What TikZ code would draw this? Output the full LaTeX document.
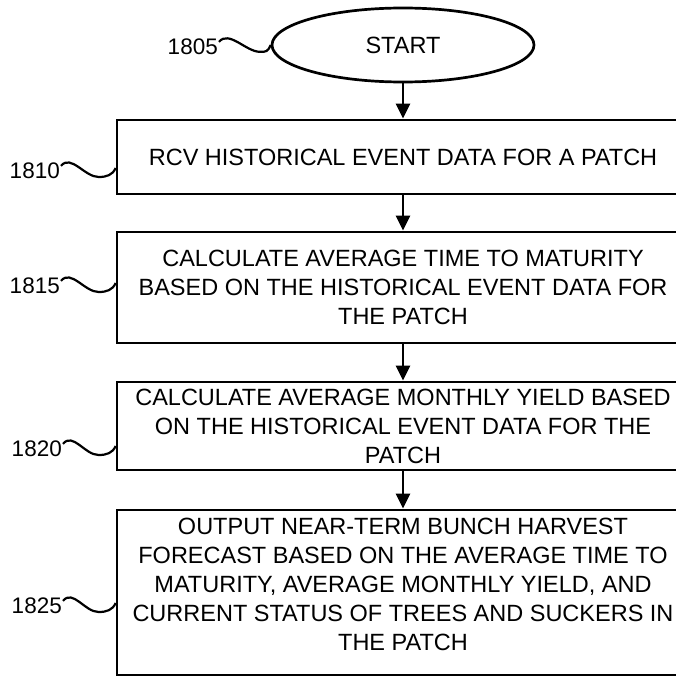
\documentclass[tikz,border=0pt]{standalone}
\usepackage{fontspec}
\setmainfont{Liberation Sans}
\usetikzlibrary{arrows.meta,shapes.geometric,calc}

\tikzset{
  flowline/.style={line width=2.7pt, line join=miter},
  stepbox/.style={flowline, draw, rectangle, align=center, inner sep=0pt,
                  minimum width=572pt, font=\fontsize{23.5}{29}\selectfont},
  startshape/.style={flowline, draw, ellipse, inner sep=0pt,
                     minimum width=262pt, minimum height=74pt,
                     font=\fontsize{23.5}{29}\selectfont},
  reflabel/.style={anchor=east, inner sep=0pt, font=\fontsize{22.5}{27}\selectfont},
  flowarrow/.style={line width=2.7pt, -{Triangle[length=15pt,width=14pt]}},
  squiggle/.style={line width=2.2pt}
}

\begin{document}
\begin{tikzpicture}[x=1pt, y=-1pt]
  \useasboundingbox (0,0) rectangle (676,677);
  \clip (0,0) rectangle (676,677);

  % process steps (boxes run off the right edge of the sheet)
  \node[startshape] (start) at (403,45) {START};
  \node[stepbox, minimum height=74pt]  (b1) at (403,157)   {RCV HISTORICAL EVENT DATA FOR A PATCH};
  \node[stepbox, minimum height=111pt] (b2) at (403,287.5) {CALCULATE AVERAGE TIME TO MATURITY\\BASED ON THE HISTORICAL EVENT DATA FOR\\THE PATCH};
  \node[stepbox, minimum height=88pt]  (b3) at (403,426)   {CALCULATE AVERAGE MONTHLY YIELD BASED\\ON THE HISTORICAL EVENT DATA FOR THE\\PATCH};
  \node[stepbox, minimum height=165pt] (b4) at (403,592.5) {OUTPUT NEAR-TERM BUNCH HARVEST\\FORECAST BASED ON THE AVERAGE TIME TO\\MATURITY, AVERAGE MONTHLY YIELD, AND\\CURRENT STATUS OF TREES AND SUCKERS IN\\THE PATCH\\[-13pt]};

  % flow arrows
  \draw[flowarrow] (start.south) -- (b1.north);
  \draw[flowarrow] (b1.south) -- (b2.north);
  \draw[flowarrow] (b2.south) -- (b3.north);
  \draw[flowarrow] (b3.south) -- (b4.north);

  % reference numerals
  \node[reflabel] (l0) at (218,47)  {1805};
  \node[reflabel] (l1) at (60,171)  {1810};
  \node[reflabel] (l2) at (60,286)  {1815};
  \node[reflabel] (l3) at (62,449)  {1820};
  \node[reflabel] (l4) at (62,606)  {1825};

  % lead lines from numerals to their steps
  \draw[squiggle] ($(l0.north east)+(1,3)$) .. controls +(10,-12) and +(-14,0) .. ($(l0.north east)+(42,13)$)
                  .. controls +(6,0) and +(-3,7) .. (start.west);
  \foreach \l/\b in {l1/b1, l2/b2, l3/b3, l4/b4}{
    \coordinate (e) at ($(\b.west |- \l.east)+(0,-3)$);
    \draw[squiggle] ($(\l.north east)+(1,3)$) .. controls +(10,-12) and +(-14,0) .. ($(e)+(-17,9)$)
                    .. controls +(8,0) and +(-3,7) .. (e);
  }
\end{tikzpicture}
\end{document}
